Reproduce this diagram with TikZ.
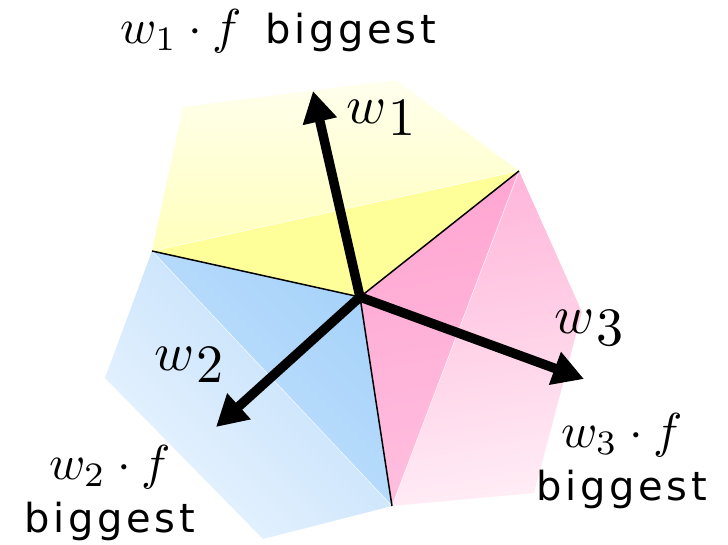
\documentclass[tikz,border=0pt]{standalone}
\usepackage{fontspec}
\newfontfamily\bigsans[LetterSpace=9]{DejaVu Sans}
\usetikzlibrary{arrows.meta}
\definecolor{ylwin}{RGB}{255,255,153}
\definecolor{ylwnear}{RGB}{255,255,188}
\definecolor{ylwfar}{RGB}{255,255,238}
\definecolor{bluin1}{RGB}{166,210,250}
\definecolor{bluin2}{RGB}{196,226,252}
\definecolor{blunear}{RGB}{188,221,250}
\definecolor{blufar}{RGB}{234,244,255}
\definecolor{pnkin1}{RGB}{255,166,210}
\definecolor{pnkin2}{RGB}{255,190,222}
\definecolor{pnknear}{RGB}{255,182,218}
\definecolor{pnkfar}{RGB}{255,236,245}
\newcommand\wsub[1]{\scalebox{5.4}{\normalsize$w$\kern0.4pt\raisebox{-2.4pt}{#1}}}
\newcommand\wdotf[1]{\scalebox{4.9}{\normalsize$w_{#1}\cdot f$}}
\tikzset{
  vec/.style={line width=9.5pt, -{Triangle[length=31pt,width=33pt]}},
  divider/.style={line width=1.5pt, black},
  seam/.style={white, line width=0.6pt, opacity=0.8},
  veclabel/.style={inner sep=0pt, anchor=base west},
  biglabel/.style={inner sep=0pt, align=center, font=\fontsize{40}{53}\selectfont}
}
\begin{document}
\begin{tikzpicture}[x=1pt,y=-1pt]
\useasboundingbox (0,0) rectangle (728,544);
% key points
\coordinate (C)  at (360,297);
\coordinate (PL) at (152,251);
\coordinate (PR) at (519,171);
\coordinate (PB) at (392,506);
\coordinate (Y1) at (183,107);
\coordinate (Y2) at (396,80);
\coordinate (B1) at (105,378);
\coordinate (B2) at (263,539);
\coordinate (K1) at (582,312);
\coordinate (K2) at (534,493);
\coordinate (T1) at (313,91);
\coordinate (T2) at (216,427);
\coordinate (T3) at (584,379);
% regions
\path[top color=ylwfar, bottom color=ylwnear] (PL) -- (Y1) -- (Y2) -- (PR) -- cycle;
\path[fill=ylwin] (C) -- (PL) -- (PR) -- cycle;
\path[top color=blunear, bottom color=blufar, shading angle=-45] (PL) -- (B1) -- (B2) -- (PB) -- cycle;
\path[top color=bluin1, bottom color=bluin2, shading angle=-45] (C) -- (PL) -- (PB) -- cycle;
\path[top color=pnknear, bottom color=pnkfar, shading angle=10] (PR) -- (K1) -- (K2) -- (PB) -- cycle;
\path[top color=pnkin1, bottom color=pnkin2, shading angle=10] (C) -- (PR) -- (PB) -- cycle;
% seams
\draw[seam] (PL) -- (PR);
\draw[seam] (PL) -- (PB);
\draw[seam] (PR) -- (PB);
% dividers
\draw[divider] (C) -- (PL);
\draw[divider] (C) -- (PR);
\draw[divider] (C) -- (PB);
% vectors
\draw[vec] (C) -- (T1);
\draw[vec] (C) -- (T2);
\draw[vec] (C) -- (T3);
% labels
\node[veclabel] (lw1) at (346,123) {\wsub{1}};
\node[veclabel] (lw2) at (154,370) {\wsub{2}};
\node[veclabel] (lw3) at (554,333) {\wsub{3}};
\node[inner sep=0pt, anchor=base west] (top) at (120,43)
  {\wdotf{1}\hspace{24pt}{\fontsize{40}{50}\selectfont\bigsans biggest}};
\node[biglabel, anchor=base] (bl) at (110,532)
  {\wdotf{2}\\{\bigsans biggest}};
\node[biglabel, anchor=base] (br) at (622,500)
  {\wdotf{3}\\{\bigsans biggest}};
\end{tikzpicture}
\end{document}
